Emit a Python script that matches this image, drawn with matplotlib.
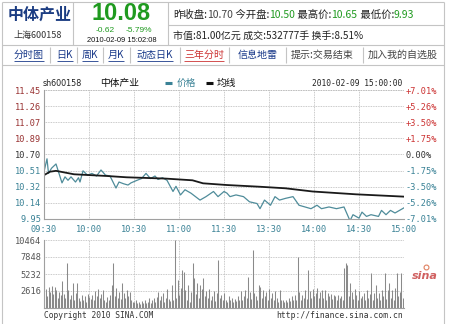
import matplotlib
matplotlib.use("Agg")
import matplotlib.pyplot as plt
import numpy as np

# minute index: 0 = 09:30, 120 = 11:30 / 13:00, 240 = 15:00
price_min = [0, 2, 3, 5, 8, 10, 12, 14, 16, 18, 21, 23, 24, 26, 29, 32, 35, 38, 41, 44,
             46, 48, 50, 53, 56, 58, 62, 65, 68, 71, 74, 76, 79, 82, 86, 88, 91, 94, 98,
             104, 108, 113, 116, 120, 122, 124, 128, 133, 137, 142, 144, 147, 151, 154,
             157, 161, 166, 170, 174, 178, 182, 185, 190, 195, 200, 204, 206, 210, 212,
             215, 218, 223, 225, 228, 231, 234, 237, 240]
price_val = [10.50, 10.65, 10.48, 10.54, 10.59, 10.48, 10.37, 10.44, 10.40, 10.44, 10.38,
             10.43, 10.38, 10.51, 10.46, 10.48, 10.45, 10.52, 10.46, 10.45, 10.38, 10.31,
             10.38, 10.36, 10.345, 10.37, 10.40, 10.42, 10.48, 10.42, 10.45, 10.41, 10.43,
             10.40, 10.27, 10.33, 10.23, 10.29, 10.25, 10.17, 10.21, 10.27, 10.21, 10.27,
             10.25, 10.21, 10.23, 10.21, 10.15, 10.13, 10.07, 10.17, 10.11, 10.21, 10.17,
             10.19, 10.21, 10.11, 10.09, 10.07, 10.11, 10.07, 10.09, 10.07, 10.09, 9.93,
             10.00, 9.96, 10.03, 9.98, 10.00, 9.98, 10.05, 10.00, 10.05, 10.02, 10.05, 10.08]

avg_min = [0, 4, 8, 20, 42, 55, 81, 99, 106, 122, 144, 161, 179, 208, 240]
avg_val = [10.46, 10.50, 10.51, 10.47, 10.45, 10.435, 10.42, 10.40, 10.365, 10.345,
           10.325, 10.307, 10.27, 10.237, 10.21]

vol_am = [5700, 3000, 1800, 3300, 2500, 3400, 2100, 3200, 2700, 1600,
          2400, 2000, 4100, 2200, 1500, 6900, 2800, 1400, 2000, 3900,
          1200, 2300, 3800, 1600, 1100, 2000, 1300, 1800, 1000, 2200,
          1700, 1400, 2000, 1300, 2600, 1800, 2900, 1500, 2100, 2800,
          1300, 1000, 1700, 1200, 2000, 3600, 6900, 1800, 3100, 1600,
          2400, 1400, 3800, 2300, 1500, 2800, 1900, 2500, 1300, 1000,
          900, 1200, 700, 1000, 600, 1100, 800, 1300, 700, 1000,
          1600, 800, 1200, 1500, 900, 1700, 2500, 1200, 1800, 2300,
          1000, 1500, 2900, 1400, 1100, 3600, 1300, 10464, 1500, 4300,
          2000, 3100, 5900, 5600, 2800, 1300, 3600, 1000, 2500, 6900,
          4600, 2200, 3800, 1600, 3600, 2900, 4600, 1800, 2600, 1500,
          3000, 1200, 1800, 2600, 1100, 2300, 7400, 1600, 2000, 1300,
          2300]
vol_pm = [1300, 1000, 1800, 1200, 1500, 900, 1400, 1100, 1800, 1200,
          2600, 1300, 1800, 2800, 1500, 4800, 2500, 1400, 8900, 2300,
          1800, 1200, 3600, 3300, 1500, 2800, 1900, 2500, 1300, 3000,
          1600, 2300, 1200, 2600, 1500, 1000, 2800, 1300, 1300, 900,
          1200, 1000, 1500, 1100, 1800, 1300, 2000, 1200, 7900, 2500,
          1300, 2000, 1500, 2800, 1400, 5800, 2600, 1500, 3000, 1800,
          2300, 3100, 1600, 2500, 2800, 1500, 2800, 1200, 2300, 1900,
          2100, 1400, 2000, 1800, 1300, 2000, 1600, 1800, 1200, 6100,
          6900, 6600, 1800, 3900, 2500, 1400, 3000, 2000, 1300, 2600,
          1500, 1800, 2300, 1200, 2800, 1600, 2100, 5400, 1300, 2300,
          3600, 1500, 2300, 1200, 2800, 1800, 5400, 1400, 2800, 3800,
          1600, 2800, 1300, 3100, 5400, 1800, 2500, 5400, 1500, 4000]

price_labels = ["9.95", "10.14", "10.32", "10.51", "10.70", "10.89", "11.07", "11.26", "11.45"]
pct_labels = ["-7.01%", "-5.26%", "-3.50%", "-1.75%", "0.00%", "+1.75%", "+3.50%", "+5.26%", "+7.01%"]
time_labels = ["09:30", "10:00", "10:30", "11:00", "11:30", "13:30", "14:00", "14:30", "15:00"]
vol_labels = ["2616", "5232", "7848", "10464"]

CJK = ["Noto Sans CJK SC", "DejaVu Sans"]
MONO = "DejaVu Sans Mono"
RED = "#cc3333"
DRED = "#993333"
TEAL = "#3a8296"
GREEN = "#1f9a1f"
LINK = "#1a3a8a"
GRID = "#b8b8b8"
FRAME = "#c4c4c4"

fig = plt.figure(figsize=(4.5, 3.24), dpi=100)
bg = fig.add_axes([0, 0, 1, 1])
bg.set_xlim(0, 450)
bg.set_ylim(324, 0)
bg.axis("off")
r = fig.canvas.get_renderer()


def hline(y, x0, x1, c=FRAME, lw=0.8):
    bg.plot([x0, x1], [y, y], color=c, lw=lw, solid_capstyle="butt")


def vline(x, y0, y1, c=FRAME, lw=0.8):
    bg.plot([x, x], [y0, y1], color=c, lw=lw, solid_capstyle="butt")


def run_text(x, y, parts, size, family=CJK):
    for s, c in parts:
        t = bg.text(x, y, s, color=c, fontsize=size, family=family, ha="left", va="center")
        x = t.get_window_extent(r).x1
    return x


# header frame
hline(2, 2, 444)
vline(2, 2, 324)
vline(444, 2, 324)
hline(45, 2, 444)
hline(65, 2, 444)
vline(73, 2, 45)
vline(168, 2, 45)
hline(25, 168, 444)

bg.text(40, 15, "中体产业", fontsize=11.5, fontweight="bold", color="#1b3c82",
        family=CJK, ha="center", va="center")
bg.text(38, 35, "上海600158", fontsize=6.5, color="#333333", family=CJK, ha="center", va="center")
bg.text(121, 13, "10.08", fontsize=17, fontweight="bold", color=GREEN,
        family="Liberation Sans", ha="center", va="center")
bg.text(105, 30, "-0.62", fontsize=6, color=GREEN, family="Liberation Sans", ha="center", va="center")
bg.text(139, 30, "-5.79%", fontsize=6, color=GREEN, family="Liberation Sans", ha="center", va="center")
bg.text(122, 41, "2010-02-09 15:02:08", fontsize=5.4, color="#111111",
        family="Liberation Sans", ha="center", va="center")

run_text(173, 15, [("昨收盘:", "#222222"), ("10.70", "#444444"), (" 今开盘:", "#222222"),
                   ("10.50", GREEN), (" 最高价:", "#222222"), ("10.65", GREEN),
                   (" 最低价:", "#222222"), ("9.93", GREEN)], 7.5)
run_text(173, 36, [("市值:81.00亿元 成交:532777手 换手:8.51%", "#222222")], 7.2)

# tab row
tabs = [("分时图", 29, LINK, True), ("日K", 65, LINK, True), ("周K", 90, LINK, True),
        ("月K", 116, LINK, True), ("动态日K", 155, LINK, True), ("三年分时", 204, RED, True),
        ("信息地雷", 258, LINK, False), ("提示:交易结束", 322, "#444444", False),
        ("加入我的自选股", 403, "#444444", False)]
for s, x, c, ul in tabs:
    t = bg.text(x, 55, s, fontsize=7.2, color=c, family=CJK, ha="center", va="center")
    if ul:
        e = t.get_window_extent(r)
        hline(60.5, e.x0, e.x1, c=c, lw=0.6)
for x in [50, 77, 103, 130, 180, 229, 286, 363]:
    vline(x, 47, 63)

# chart title row
bg.text(43, 83, "sh600158", fontsize=5.8, color="#222222", family="DejaVu Sans", ha="left", va="center")
bg.text(100, 83, "中体产业", fontsize=7, color="#111111", family=CJK, ha="left", va="center")
hline(83, 165, 172, c=TEAL, lw=2.2)
bg.text(177, 83, "价格", fontsize=7, color=TEAL, family=CJK, ha="left", va="center")
hline(83, 206, 213, c="#111111", lw=2.2)
bg.text(217, 83, "均线", fontsize=7, color="#111111", family=CJK, ha="left", va="center")
bg.text(402, 83, "2010-02-09 15:00:00", fontsize=5.7, color="#222222", family=MONO,
        ha="right", va="center")

# footer
bg.text(44, 315, "Copyright 2010 SINA.COM", fontsize=5.7, color="#333333", family=MONO,
        ha="left", va="center")
bg.text(403, 315, "http://finance.sina.com.cn", fontsize=5.8, color="#333333", family=MONO,
        ha="right", va="center")
bg.text(425, 276, "sina", fontsize=8, color="#d06060", style="italic", fontweight="bold",
        family="DejaVu Sans", ha="center", va="center")
bg.plot([426], [267], marker="o", ms=3.5, mfc="none", mec="#e08060", mew=0.8)

# price panel
W, H = 450, 324
ax = fig.add_axes([44 / W, (H - 219) / H, 360 / W, 129 / H])
ax.plot(price_min, price_val, color="#4f8c9a", lw=0.9)
ax.plot(avg_min, avg_val, color="#1a1a1a", lw=1.3)
ax.set_xlim(0, 240)
ax.set_ylim(9.95, 11.45)
levels = np.linspace(9.95, 11.45, 9)
ax.set_yticks(levels, price_labels)
ax.set_xticks(np.arange(0, 241, 30), time_labels)
ax.tick_params(length=0, labelsize=6.2, pad=2)
ax.tick_params(axis="x", pad=4, colors=TEAL)
for lab in ax.get_xticklabels() + ax.get_yticklabels():
    lab.set_family(MONO)
for i, lab in enumerate(ax.get_yticklabels()):
    lab.set_color(DRED if i > 4 else ("#333333" if i == 4 else TEAL))
ax.grid(True, color=GRID, lw=0.6, linestyle=(0, (1, 1)))
for s in ["top", "right"]:
    ax.spines[s].set_visible(False)
for s in ["left", "bottom"]:
    ax.spines[s].set_color("#a0a0a0")
    ax.spines[s].set_linewidth(0.8)
ax.axhline(11.45, color=GRID, lw=0.6, linestyle=(0, (1, 1)), clip_on=False)

ax2 = ax.twinx()
ax2.set_ylim(9.95, 11.45)
ax2.set_yticks(levels, pct_labels)
ax2.tick_params(length=0, labelsize=6.2, pad=1)
for i, lab in enumerate(ax2.get_yticklabels()):
    lab.set_family(MONO)
    lab.set_color(RED if i > 4 else ("#333333" if i == 4 else TEAL))
for s in ax2.spines.values():
    s.set_visible(False)

# volume panel
vol = vol_am + vol_pm
axv = fig.add_axes([44 / W, (H - 308) / H, 360 / W, 68 / H])
axv.vlines(np.arange(len(vol)), 0, vol, color="#8a8a8a", lw=0.75)
axv.set_xlim(0, 240)
axv.set_ylim(0, 10464)
axv.set_yticks([2616, 5232, 7848, 10464], vol_labels)
axv.set_xticks(np.arange(0, 241, 30))
axv.tick_params(length=0, labelsize=6.2, pad=2, labelcolor="#555555", labelbottom=False)
for lab in axv.get_yticklabels():
    lab.set_family(MONO)
axv.grid(True, color=GRID, lw=0.6, linestyle=(0, (1, 1)))
axv.set_axisbelow(True)
for s in ["top", "right"]:
    axv.spines[s].set_visible(False)
for s in ["left", "bottom"]:
    axv.spines[s].set_color("#a0a0a0")
    axv.spines[s].set_linewidth(0.8)

fig.savefig("out.png", dpi=100, facecolor="white")
